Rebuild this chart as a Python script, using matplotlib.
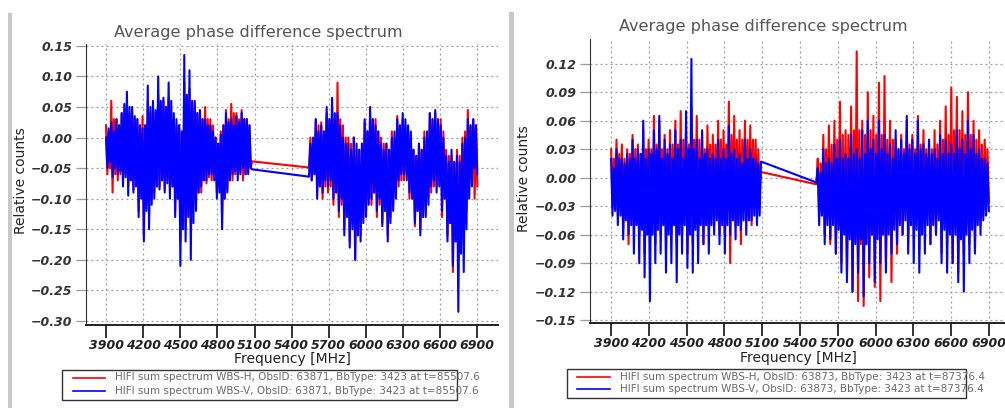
import numpy as np
import matplotlib
matplotlib.use('Agg')
import matplotlib.pyplot as plt
from matplotlib.patches import Rectangle
from matplotlib.lines import Line2D

# Spectra: for each sub-band the upper and lower
# excursions of the noisy trace, channel by channel (coarse), plus the
# values at the band edges where the trace jumps across the gap.

# ---- left observation: ObsID 63871 ----
left_band1 = (3900, 5080)
left_band2 = (5540, 6900)

left_h1_hi = [0.02, 0.01, 0.06, 0.03, 0.03, 0.02, 0.04, 0.03, 0.05, 0.04, 0.045, 0.03, 0.03, 0.02,
              0.035, 0.02, 0.06, 0.04, 0.05, 0.04, 0.07, 0.05, 0.06, 0.05, 0.065, 0.04, 0.03, 0.02,
              0.02, 0.01, 0.09, 0.06, 0.08, 0.05, 0.055, 0.04, 0.035, 0.03, 0.05, 0.03, 0.03, 0.02,
              0.00, -0.01, 0.01, 0.02, 0.045, 0.03, 0.055, 0.04, 0.04, 0.03, 0.045, 0.03, 0.03, 0.02]
left_h1_lo = [-0.06, -0.05, -0.09, -0.06, -0.07, -0.06, -0.07, -0.06, -0.08, -0.07, -0.085, -0.07,
              -0.12, -0.09, -0.16, -0.11, -0.13, -0.10, -0.09, -0.08, -0.08, -0.07, -0.085, -0.07,
              -0.09, -0.08, -0.12, -0.10, -0.17, -0.13, -0.15, -0.12, -0.14, -0.11, -0.10, -0.09,
              -0.09, -0.07, -0.075, -0.065, -0.07, -0.06, -0.09, -0.08, -0.14, -0.10, -0.085, -0.07,
              -0.07, -0.06, -0.06, -0.055, -0.07, -0.06, -0.055, -0.05]
left_h2_hi = [0.00, -0.01, 0.03, 0.02, 0.025, 0.01, 0.04, 0.03, 0.05, 0.03, 0.09, 0.03, 0.02, 0.00,
              0.00, -0.01, 0.00, -0.02, -0.02, -0.01, 0.025, 0.01, 0.04, 0.03, 0.03, 0.01, 0.00, -0.01,
              -0.01, -0.02, 0.01, 0.00, 0.035, 0.02, 0.03, 0.02, 0.01, 0.00, -0.02, -0.03, -0.01, -0.02,
              0.01, 0.00, 0.04, 0.03, 0.04, 0.02, 0.03, 0.01, -0.02, -0.03, -0.03, -0.04, -0.02, -0.03,
              0.00, 0.01, 0.045, 0.02, 0.03, 0.02]
left_h2_lo = [-0.07, -0.06, -0.09, -0.08, -0.10, -0.08, -0.09, -0.08, -0.11, -0.09, -0.13, -0.11,
              -0.15, -0.12, -0.17, -0.14, -0.20, -0.16, -0.16, -0.13, -0.12, -0.10, -0.11, -0.09,
              -0.13, -0.11, -0.14, -0.12, -0.16, -0.13, -0.11, -0.09, -0.08, -0.07, -0.07, -0.06,
              -0.10, -0.09, -0.145, -0.12, -0.15, -0.13, -0.12, -0.10, -0.09, -0.08, -0.08, -0.07,
              -0.13, -0.10, -0.16, -0.14, -0.22, -0.17, -0.20, -0.16, -0.15, -0.12, -0.07, -0.06,
              -0.10, -0.08]
left_h_edges = (-0.039, -0.049)

left_v1_hi = [0.00, 0.015, 0.025, 0.01, 0.03, 0.02, 0.04, 0.055, 0.075, 0.05, 0.05, 0.035, 0.03, 0.02,
              0.015, 0.02, 0.085, 0.05, 0.06, 0.045, 0.10, 0.06, 0.065, 0.05, 0.09, 0.06, 0.04, 0.03,
              0.02, 0.01, 0.135, 0.07, 0.11, 0.06, 0.06, 0.04, 0.045, 0.03, 0.03, 0.02, 0.02, 0.01,
              0.00, -0.01, 0.005, 0.02, 0.04, 0.025, 0.03, 0.02, 0.035, 0.025, 0.04, 0.03, 0.03, 0.02]
left_v1_lo = [-0.05, -0.04, -0.065, -0.05, -0.06, -0.055, -0.08, -0.065, -0.095, -0.07, -0.09, -0.08,
              -0.13, -0.10, -0.17, -0.12, -0.15, -0.11, -0.10, -0.08, -0.085, -0.07, -0.09, -0.075,
              -0.10, -0.08, -0.13, -0.10, -0.21, -0.15, -0.17, -0.13, -0.20, -0.14, -0.12, -0.09,
              -0.08, -0.07, -0.07, -0.06, -0.06, -0.07, -0.10, -0.09, -0.15, -0.10, -0.09, -0.07,
              -0.06, -0.055, -0.07, -0.06, -0.05, -0.06, -0.06, -0.05]
left_v2_hi = [-0.01, 0.00, 0.03, 0.01, 0.02, 0.01, 0.05, 0.03, 0.065, 0.04, 0.04, 0.02, 0.00, -0.01,
              -0.01, -0.02, 0.00, -0.01, -0.02, -0.01, 0.03, 0.01, 0.05, 0.03, 0.02, 0.01, -0.01, -0.02,
              -0.01, -0.02, 0.00, 0.01, 0.03, 0.02, 0.04, 0.03, 0.02, 0.01, -0.02, -0.03, -0.01, -0.02,
              0.00, 0.01, 0.04, 0.03, 0.045, 0.03, 0.02, 0.00, -0.03, -0.04, -0.02, -0.04, -0.03, -0.04,
              -0.01, 0.00, 0.03, 0.02, 0.03, 0.02]
left_v2_lo = [-0.07, -0.06, -0.10, -0.08, -0.09, -0.07, -0.08, -0.07, -0.10, -0.09, -0.12, -0.10,
              -0.16, -0.13, -0.18, -0.15, -0.20, -0.16, -0.17, -0.14, -0.13, -0.11, -0.10, -0.09,
              -0.12, -0.10, -0.145, -0.12, -0.17, -0.14, -0.12, -0.10, -0.07, -0.06, -0.06, -0.07,
              -0.09, -0.10, -0.14, -0.12, -0.16, -0.13, -0.13, -0.11, -0.08, -0.07, -0.09, -0.08,
              -0.12, -0.10, -0.17, -0.14, -0.21, -0.17, -0.285, -0.19, -0.22, -0.15, -0.10, -0.08,
              -0.05, -0.06]
left_v_edges = (-0.052, -0.064)

# ---- right observation: ObsID 63873 ----
right_band1 = (3900, 5090)
right_band2 = (5530, 6900)

right_h1_hi = [0.03, 0.02, 0.04, 0.025, 0.035, 0.02, 0.03, 0.025, 0.045, 0.03, 0.035, 0.025, 0.05, 0.03,
               0.04, 0.03, 0.065, 0.035, 0.06, 0.03, 0.045, 0.03, 0.05, 0.035, 0.06, 0.035, 0.07, 0.04,
               0.05, 0.035, 0.075, 0.04, 0.065, 0.04, 0.04, 0.03, 0.055, 0.035, 0.045, 0.035, 0.06, 0.04,
               0.05, 0.035, 0.08, 0.045, 0.065, 0.04, 0.05, 0.04, 0.06, 0.04, 0.055, 0.04, 0.04, 0.03]
right_h1_lo = [-0.03, -0.025, -0.04, -0.03, -0.055, -0.035, -0.07, -0.04, -0.05, -0.04, -0.06, -0.04,
               -0.08, -0.045, -0.06, -0.04, -0.07, -0.045, -0.06, -0.04, -0.075, -0.045, -0.06, -0.04,
               -0.07, -0.045, -0.06, -0.04, -0.08, -0.045, -0.07, -0.04, -0.06, -0.04, -0.07, -0.04,
               -0.05, -0.035, -0.05, -0.035, -0.06, -0.04, -0.06, -0.035, -0.09, -0.04, -0.05, -0.035,
               -0.07, -0.035, -0.04, -0.03, -0.05, -0.03, -0.03, -0.02]
right_h2_hi = [0.02, 0.015, 0.045, 0.03, 0.055, 0.035, 0.06, 0.04, 0.08, 0.045, 0.05, 0.045, 0.075, 0.05,
               0.133, 0.05, 0.06, 0.045, 0.09, 0.05, 0.065, 0.045, 0.10, 0.045, 0.107, 0.04, 0.06, 0.04,
               0.04, 0.03, 0.045, 0.03, 0.06, 0.035, 0.045, 0.03, 0.065, 0.035, 0.05, 0.03, 0.04, 0.03,
               0.05, 0.035, 0.06, 0.04, 0.075, 0.045, 0.095, 0.05, 0.085, 0.05, 0.07, 0.045, 0.09, 0.045,
               0.06, 0.04, 0.05, 0.035, 0.04, 0.03]
right_h2_lo = [-0.04, -0.03, -0.06, -0.04, -0.07, -0.045, -0.08, -0.05, -0.09, -0.055, -0.10, -0.06,
               -0.12, -0.065, -0.13, -0.07, -0.135, -0.07, -0.105, -0.06, -0.115, -0.06, -0.13, -0.06,
               -0.09, -0.05, -0.11, -0.05, -0.08, -0.045, -0.06, -0.04, -0.07, -0.045, -0.05, -0.04,
               -0.075, -0.045, -0.06, -0.04, -0.07, -0.045, -0.06, -0.04, -0.08, -0.045, -0.07, -0.045,
               -0.09, -0.05, -0.10, -0.055, -0.08, -0.05, -0.07, -0.045, -0.075, -0.045, -0.05, -0.04,
               -0.03, -0.025]
right_h_edges = (0.006, -0.007)

right_v1_hi = [0.02, 0.01, 0.03, 0.02, 0.02, 0.015, 0.025, 0.02, 0.04, 0.02, 0.03, 0.025, 0.06, 0.02,
               0.03, 0.025, 0.05, 0.03, 0.065, 0.02, 0.04, 0.025, 0.035, 0.02, 0.05, 0.03, 0.04, 0.02,
               0.07, 0.03, 0.125, 0.03, 0.04, 0.02, 0.05, 0.025, 0.03, 0.02, 0.025, 0.02, 0.04, 0.02,
               0.03, 0.02, 0.055, 0.025, 0.03, 0.02, 0.025, 0.015, 0.04, 0.02, 0.03, 0.02, 0.02, 0.015]
right_v1_lo = [-0.04, -0.035, -0.05, -0.04, -0.065, -0.045, -0.06, -0.05, -0.08, -0.05, -0.09, -0.055,
               -0.105, -0.06, -0.13, -0.06, -0.09, -0.055, -0.08, -0.05, -0.10, -0.06, -0.09, -0.05,
               -0.11, -0.06, -0.08, -0.05, -0.095, -0.06, -0.10, -0.055, -0.09, -0.05, -0.07, -0.05,
               -0.08, -0.05, -0.06, -0.045, -0.07, -0.05, -0.08, -0.05, -0.06, -0.045, -0.065, -0.05,
               -0.055, -0.045, -0.06, -0.045, -0.045, -0.04, -0.05, -0.04]
right_v2_hi = [0.01, 0.005, 0.03, 0.015, 0.02, 0.015, 0.035, 0.02, 0.04, 0.02, 0.025, 0.02, 0.045, 0.025,
               0.03, 0.02, 0.05, 0.025, 0.06, 0.03, 0.04, 0.025, 0.06, 0.03, 0.045, 0.025, 0.035, 0.02,
               0.05, 0.03, 0.04, 0.025, 0.065, 0.03, 0.04, 0.025, 0.06, 0.03, 0.035, 0.025, 0.04, 0.025,
               0.03, 0.02, 0.045, 0.025, 0.04, 0.025, 0.035, 0.025, 0.05, 0.03, 0.04, 0.025, 0.06, 0.03,
               0.045, 0.025, 0.03, 0.02, 0.02, 0.015]
right_v2_lo = [-0.05, -0.04, -0.07, -0.05, -0.065, -0.05, -0.08, -0.055, -0.10, -0.06, -0.11, -0.065,
               -0.12, -0.07, -0.10, -0.065, -0.125, -0.07, -0.09, -0.06, -0.11, -0.065, -0.09, -0.06,
               -0.10, -0.06, -0.08, -0.055, -0.07, -0.05, -0.06, -0.045, -0.08, -0.05, -0.09, -0.055,
               -0.10, -0.06, -0.08, -0.05, -0.07, -0.05, -0.06, -0.045, -0.09, -0.055, -0.10, -0.06,
               -0.09, -0.06, -0.11, -0.065, -0.12, -0.06, -0.09, -0.055, -0.08, -0.05, -0.06, -0.045,
               -0.04, -0.035]
right_v_edges = (0.017, -0.005)

x_ticks = [3900, 4200, 4500, 4800, 5100, 5400, 5700, 6000, 6300, 6600, 6900]
left_yticks = [0.15, 0.10, 0.05, 0.00, -0.05, -0.10, -0.15, -0.20, -0.25, -0.30]
right_yticks = [0.12, 0.09, 0.06, 0.03, 0.00, -0.03, -0.06, -0.09, -0.12, -0.15]

left_legend = ['HIFI sum spectrum WBS-H, ObsID: 63871, BbType: 3423 at t=85507.6',
               'HIFI sum spectrum WBS-V, ObsID: 63871, BbType: 3423 at t=85507.6']
right_legend = ['HIFI sum spectrum WBS-H, ObsID: 63873, BbType: 3423 at t=87376.4',
                'HIFI sum spectrum WBS-V, ObsID: 63873, BbType: 3423 at t=87376.4']

W, H = 1005, 408


def fx(px):
    return px / W


def fy(py):
    return 1 - py / H


def spectrum(band1, band2, hi1, lo1, hi2, lo2, edges):
    # channels alternate between the upper and lower excursions
    s1 = list(np.column_stack((hi1, lo1)).ravel()) + [edges[0]]
    s2 = [edges[1]] + list(np.column_stack((hi2, lo2)).ravel())
    f = np.concatenate([np.linspace(band1[0], band1[1], len(s1)),
                        np.linspace(band2[0], band2[1], len(s2))])
    return f, np.array(s1 + s2)


def setup_axes(ax, xlim, ylim, yticks):
    ax.set_xlim(*xlim)
    ax.set_ylim(*ylim)
    ax.set_xticks(x_ticks)
    ax.set_xticklabels([str(t) for t in x_ticks])
    ax.set_yticks(yticks)
    ax.set_yticklabels([('%.2f' % t).replace('-', '\u2212') for t in yticks])
    ax.grid(True, color='#9a9a9a', linestyle=(0, (1.5, 2.5)), linewidth=0.9)
    ax.set_axisbelow(True)
    for s in ['top', 'right']:
        ax.spines[s].set_visible(False)
    ax.spines['left'].set_color('#333333')
    ax.spines['bottom'].set_color('#222222')
    ax.spines['bottom'].set_linewidth(1.4)
    ax.tick_params(axis='x', direction='out', length=9, width=1.3, color='#222222', pad=1,
                   labelsize=9, labelcolor='#222222')
    ax.tick_params(axis='y', direction='out', length=7, width=0.9, color='#9a9a9a', pad=3,
                   labelsize=9, labelcolor='#333333')
    for lab in ax.get_xticklabels() + ax.get_yticklabels():
        lab.set_fontstyle('italic')
        lab.set_fontweight('bold')


def draw_legend(fig, box, line_x, text_x, rows, labels):
    x0, y0, x1, y1 = box
    fig.add_artist(Rectangle((fx(x0), fy(y1)), fx(x1) - fx(x0), fy(y0) - fy(y1),
                             transform=fig.transFigure, fill=False, edgecolor='#333333', lw=1.0))
    for row, lab, col in zip(rows, labels, ['#ff0000', '#0000ff']):
        fig.add_artist(Line2D([fx(line_x[0]), fx(line_x[1])], [fy(row), fy(row)],
                              transform=fig.transFigure, color=col, lw=1.2))
        fig.text(fx(text_x), fy(row), lab, fontsize=7.5, color='#6a6a6a', va='center', ha='left')


fig = plt.figure(figsize=(W / 100, H / 100), dpi=100)

# left panel
ax1 = fig.add_axes([fx(86), fy(325), fx(498) - fx(86), fy(44) - fy(325)])
f, v = spectrum(left_band1, left_band2, left_h1_hi, left_h1_lo, left_h2_hi, left_h2_lo, left_h_edges)
ax1.plot(f, v, color='#ff0000', lw=1.5)
f, v = spectrum(left_band1, left_band2, left_v1_hi, left_v1_lo, left_v2_hi, left_v2_lo, left_v_edges)
ax1.plot(f, v, color='#0000ff', lw=1.5)
setup_axes(ax1, (3738, 7067), (-0.3066, 0.153), left_yticks)

# right panel
ax2 = fig.add_axes([fx(590), fy(323), fx(1010) - fx(590), fy(39) - fy(323)])
f, v = spectrum(right_band1, right_band2, right_h1_hi, right_h1_lo, right_h2_hi, right_h2_lo,
                right_h_edges)
ax2.plot(f, v, color='#ff0000', lw=1.5)
f, v = spectrum(right_band1, right_band2, right_v1_hi, right_v1_lo, right_v2_hi, right_v2_lo,
                right_v_edges)
ax2.plot(f, v, color='#0000ff', lw=1.5)
setup_axes(ax2, (3732, 7068), (-0.153, 0.146), right_yticks)

# titles and axis labels
fig.text(fx(258), fy(32), 'Average phase difference spectrum', fontsize=11.6, color='#555555',
         ha='center', va='center')
fig.text(fx(763), fy(26), 'Average phase difference spectrum', fontsize=11.6, color='#555555',
         ha='center', va='center')
fig.text(fx(292), fy(359), 'Frequency [MHz]', fontsize=10, color='#222222', ha='center', va='center')
fig.text(fx(798), fy(358), 'Frequency [MHz]', fontsize=10, color='#222222', ha='center', va='center')
fig.text(fx(21), fy(181), 'Relative counts', fontsize=10, color='#222222', rotation=90,
         ha='center', va='center')
fig.text(fx(524), fy(179), 'Relative counts', fontsize=10, color='#222222', rotation=90,
         ha='center', va='center')

draw_legend(fig, (62, 370, 457, 400), (73, 105), 115, (377.5, 390.5), left_legend)
draw_legend(fig, (567, 369, 966, 398), (577, 610), 620, (376.5, 389), right_legend)

# grey frame bars of the screenshot panels
fig.add_artist(Rectangle((fx(8), 0), fx(4), fy(13), transform=fig.transFigure,
                         color='#c8c8c8', lw=0))
fig.add_artist(Rectangle((fx(509), 0), fx(5), fy(12), transform=fig.transFigure,
                         color='#c8c8c8', lw=0))

fig.savefig('out.png', dpi=100)
